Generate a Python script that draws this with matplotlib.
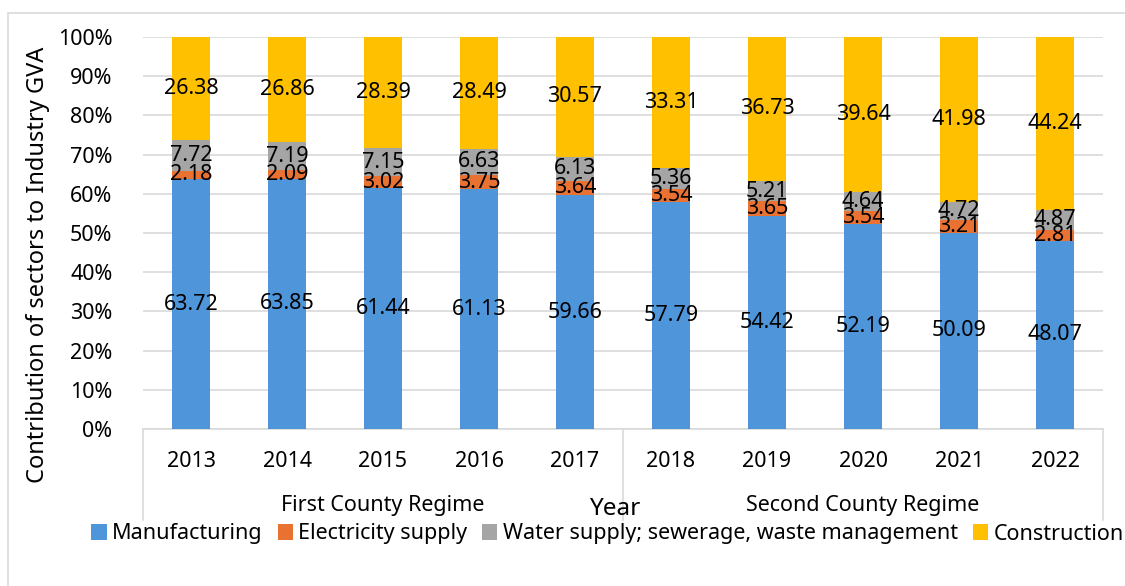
import numpy as np
import matplotlib
matplotlib.use('Agg')
import matplotlib.pyplot as plt
from matplotlib.patches import Rectangle
from matplotlib.ticker import FuncFormatter

plt.rcParams['font.family'] = ['Noto Sans', 'DejaVu Sans']

years = ['2013', '2014', '2015', '2016', '2017', '2018', '2019', '2020', '2021', '2022']
regimes = ['First County Regime', 'Second County Regime']
manufacturing = [63.72, 63.85, 61.44, 61.13, 59.66, 57.79, 54.42, 52.19, 50.09, 48.07]
electricity = [2.18, 2.09, 3.02, 3.75, 3.64, 3.54, 3.65, 3.54, 3.21, 2.81]
water = [7.72, 7.19, 7.15, 6.63, 6.13, 5.36, 5.21, 4.64, 4.72, 4.87]
construction = [26.38, 26.86, 28.39, 28.49, 30.57, 33.31, 36.73, 39.64, 41.98, 44.24]

series = [
    ('Manufacturing', manufacturing, '#4E95D9'),
    ('Electricity supply', electricity, '#E97132'),
    ('Water supply; sewerage, waste management', water, '#A5A5A5'),
    ('Construction', construction, '#FFC000'),
]

fs = 15.5

fig = plt.figure(figsize=(11.25, 5.86), dpi=100)
ax = fig.add_axes([143 / 1125, 1 - 429 / 586, 960 / 1125, 392 / 586])

# chart area border (right/bottom fall outside the image)
fig.patches.append(Rectangle((8 / 1125, -0.1), 1.2, 1 - 13 / 586 + 0.1,
                             transform=fig.transFigure, fill=False,
                             edgecolor='#D9D9D9', linewidth=1.2))

x = np.arange(len(years))
total = np.array(manufacturing) + np.array(electricity) + np.array(water) + np.array(construction)
bottom = np.zeros(len(years))
for name, vals, color in series:
    vals = np.array(vals)
    frac = vals / total
    ax.bar(x, frac, 0.4, bottom=bottom, color=color, label=name, zorder=3)
    for xi, b, f, v in zip(x, bottom, frac, vals):
        ax.text(xi, b + f / 2, f'{v:.2f}', ha='center', va='center',
                fontsize=fs, color='black', zorder=4)
    bottom = bottom + frac

ax.set_xlim(-0.5, len(years) - 0.5)
ax.set_ylim(0, 1)
ax.set_yticks(np.arange(0, 1.01, 0.1))
ax.yaxis.set_major_formatter(FuncFormatter(lambda v, p: f'{v * 100:.0f}%'))
ax.tick_params(axis='y', length=0, pad=22, labelsize=fs)
ax.set_xticks([])
ax.grid(axis='y', color='#D9D9D9', linewidth=1.2, zorder=0)
for s in ['top', 'right', 'left']:
    ax.spines[s].set_visible(False)
ax.spines['bottom'].set_color('#D9D9D9')
ax.spines['bottom'].set_linewidth(1.2)

# multi-level category axis
tr = ax.get_xaxis_transform()
for xi, yr in zip(x, years):
    ax.text(xi, -0.082, yr, transform=tr, ha='center', va='center', fontsize=fs)
for xb in [-0.5, 4.5, 9.5]:
    ax.plot([xb, xb], [0, -0.232], transform=tr, color='#D9D9D9',
            linewidth=1.2, clip_on=False)
ax.text(2, -0.194, regimes[0], transform=tr, ha='center', va='center', fontsize=fs)
ax.text(7, -0.194, regimes[1], transform=tr, ha='center', va='center', fontsize=fs)
ax.text(0.4917, -0.205, 'Year', transform=ax.transAxes, ha='center', va='center',
        fontsize=17.5)

fig.text(0.034, 1 - 265 / 586, 'Contribution of sectors to Industry GVA',
         rotation=90, ha='center', va='center', fontsize=17)

fig.legend(loc='center', bbox_to_anchor=(0.54, 1 - 534 / 586), ncol=4,
           frameon=False, fontsize=fs, handlelength=0.7, handleheight=0.7,
           handletextpad=0.25, columnspacing=0.7)

fig.savefig('out.png', dpi=100)
